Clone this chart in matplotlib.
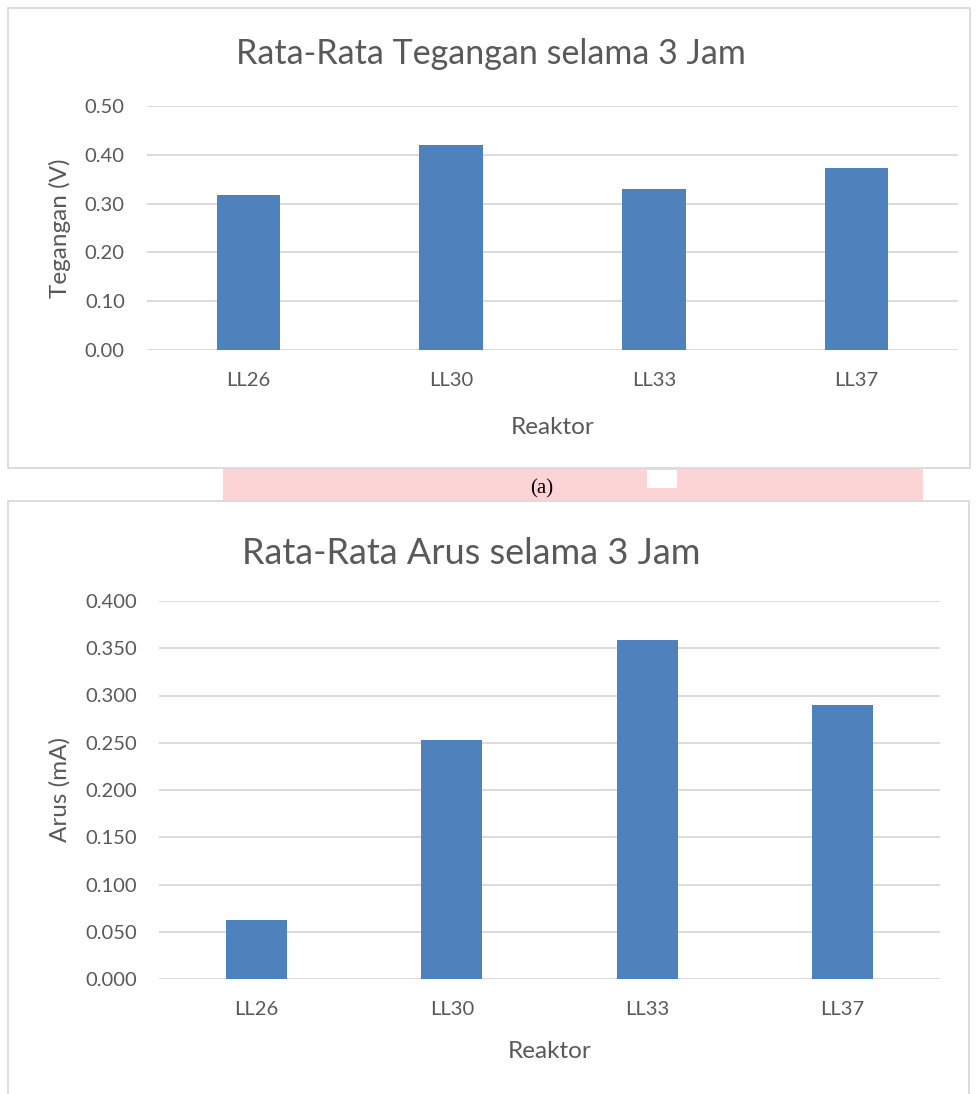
import matplotlib
matplotlib.use("Agg")
import matplotlib.pyplot as plt
from matplotlib.patches import Rectangle

reaktor = ["LL26", "LL30", "LL33", "LL37"]
tegangan = [0.317, 0.420, 0.330, 0.372]
arus = [0.062, 0.253, 0.359, 0.290]
tegangan_ticks = [0.00, 0.10, 0.20, 0.30, 0.40, 0.50]
arus_ticks = [0.000, 0.050, 0.100, 0.150, 0.200, 0.250, 0.300, 0.350, 0.400]

W, H = 978, 1094
plt.rcParams['font.family'] = ['Lato', 'DejaVu Sans']
txt = '#595959'
bar_c = '#4F81BD'
grid_c = '#D9D9D9'

fig = plt.figure(figsize=(W / 100, H / 100), dpi=100)


def px(x, y):
    # pixel coords (top-left origin) -> figure fraction
    return x / W, 1 - y / H


def box(x0, y0, x1, y1):
    return [x0 / W, 1 - y1 / H, (x1 - x0) / W, (y1 - y0) / H]


# chart borders
fig.patches.append(Rectangle(px(8, 468), 962 / W, 460 / H, transform=fig.transFigure,
                             fill=False, ec=grid_c, lw=1.3))
fig.patches.append(Rectangle((8 / W, -0.01), 961 / W, 0.01 + (H - 501) / H, transform=fig.transFigure,
                             fill=False, ec=grid_c, lw=1.3))
# caption strip
fig.patches.append(Rectangle(px(223, 500), 700 / W, 31 / H, transform=fig.transFigure,
                             fc='#FDD4D5', ec='none', zorder=0))
fig.patches.append(Rectangle(px(647, 488), 30 / W, 18 / H, transform=fig.transFigure,
                             fc='white', ec='none', zorder=1))
fig.text(*px(542, 489), "(a)", family='Liberation Serif', fontsize=15,
         ha='center', va='center', color='black')


def draw(rect, vals, ticks, fmt, title, title_size, ylabel, title_xy, xlabel_y):
    ax = fig.add_axes(box(*rect))
    ax.bar(range(len(reaktor)), vals, width=0.313, color=bar_c, zorder=3)
    ax.set_xlim(-0.5, len(reaktor) - 0.5)
    ax.set_ylim(ticks[0], ticks[-1])
    ax.set_yticks(ticks)
    ax.set_yticklabels([fmt.format(t) for t in ticks])
    ax.set_xticks(range(len(reaktor)))
    ax.set_xticklabels(reaktor)
    ax.tick_params(length=0, labelsize=14.5, labelcolor=txt, pad=16)
    ax.grid(axis='y', color=grid_c, lw=1.3, zorder=0)
    for s in ax.spines.values():
        s.set_visible(False)
    fig.text(*px(*title_xy), title, fontsize=title_size, ha='center', va='center', color=txt)
    fig.text(*px(60, (rect[1] + rect[3]) / 2), ylabel, fontsize=17.5,
             rotation=90, ha='center', va='center', color=txt)
    fig.text(*px((rect[0] + rect[2]) / 2, xlabel_y), "Reaktor", fontsize=17.5,
             ha='center', va='center', color=txt)
    return ax


draw((147, 106, 958, 350), tegangan, tegangan_ticks, "{:.2f}",
     "Rata-Rata Tegangan selama 3 Jam", 24.5, "Tegangan (V)", (491, 54), 428)
draw((159, 601, 940, 979), arus, arus_ticks, "{:.3f}",
     "Rata-Rata Arus selama 3 Jam", 26, "Arus (mA)", (471, 553), 1051)

fig.savefig("out.png", dpi=100)
